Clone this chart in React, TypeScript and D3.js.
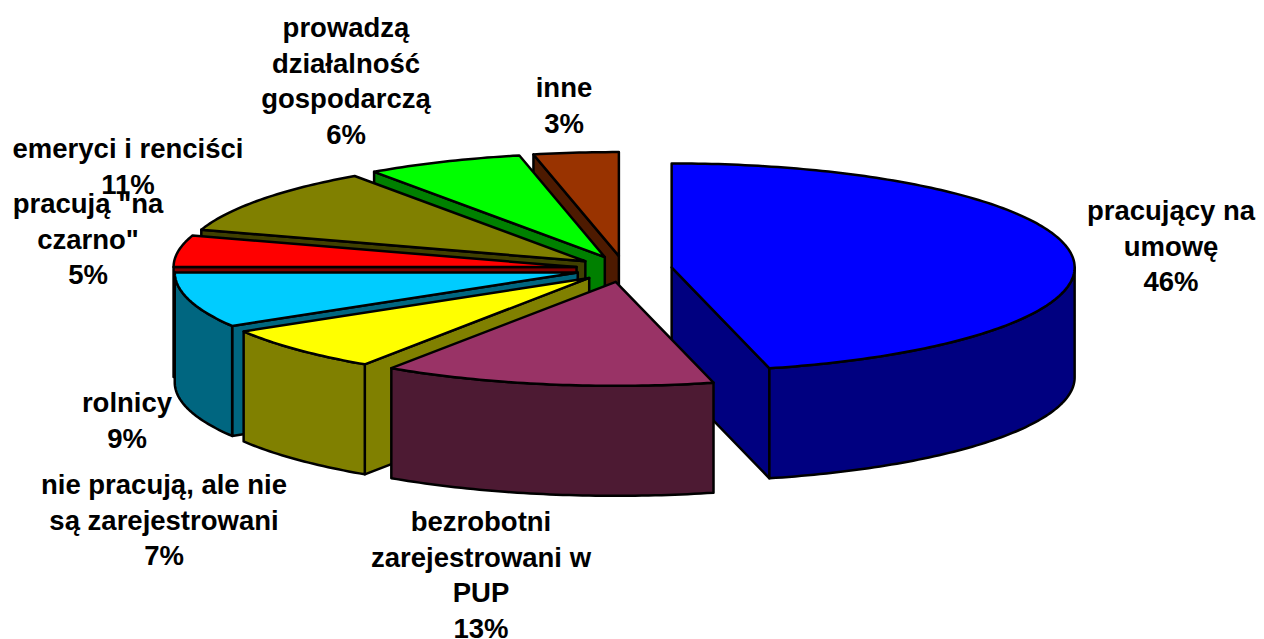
import React from 'react';
import * as d3 from 'd3';

const categories = ['pracujący na umowę', 'bezrobotni zarejestrowani w PUP', 'nie pracują, ale nie są zarejestrowani', 'rolnicy', 'pracują "na czarno"', 'emeryci i renciści', 'prowadzą działalność gospodarczą', 'inne'];
const shares = [46.1, 13.3, 7.0, 8.6, 4.9, 10.4, 6.3, 3.4];
const percentLabels = ['46%', '13%', '7%', '9%', '5%', '11%', '6%', '3%'];
const topColors = ['#0000ff', '#993366', '#ffff00', '#00ccff', '#ff0000', '#808000', '#00ff00', '#993300'];
const sideColors = ['#000080', '#4d1a33', '#808000', '#006680', '#800000', '#404000', '#008000', '#4d1a00'];

// text lines of every label, wrapped like the original
const labelLines = [
  ['pracujący na', 'umowę'],
  ['bezrobotni', 'zarejestrowani w', 'PUP'],
  ['nie pracują, ale nie', 'są zarejestrowani'],
  ['rolnicy'],
  ['pracują "na', 'czarno"'],
  ['emeryci i renciści'],
  ['prowadzą', 'działalność', 'gospodarczą'],
  ['inne'],
];
// label centre x and first baseline
const labelX = [1171, 481, 164, 127, 88, 128, 346, 564];
const labelY = [220, 531, 494, 412, 213, 158, 37, 97];

const width = 1264;
const height = 639;
const cx = 624;
const cy = 269;
const rx = 403;
const ry = 104;
const depth = 110;
const explodeX = 48;
const explodeY = 13;
const lineGap = 35.5;

const pie = d3.pie<number>().sort(null).startAngle(0).endAngle(2 * Math.PI);
const line = d3.line();

const App = () => {
  const slices = pie(shares).map((d, i) => {
    const mid = (d.startAngle + d.endAngle) / 2;
    const ax = cx + explodeX * Math.sin(mid);
    const ay = cy - explodeY * Math.cos(mid);
    const pt = (a: number, dz = 0): [number, number] => [ax + rx * Math.sin(a), ay - ry * Math.cos(a) + dz];
    const arcPts = (a0: number, a1: number, dz = 0) => {
      const n = Math.max(2, Math.ceil((a1 - a0) * 60));
      return d3.range(n + 1).map((k) => pt(a0 + ((a1 - a0) * k) / n, dz));
    };
    const apex: [number, number] = [ax, ay];
    const apexLow: [number, number] = [ax, ay + depth];
    const top = line([apex, ...arcPts(d.startAngle, d.endAngle)]) + 'Z';
    const walls: string[] = [];
    // cut faces: only those turned to the viewer
    if (Math.sin(d.startAngle) < -1e-6) {
      walls.push(line([apex, pt(d.startAngle), pt(d.startAngle, depth), apexLow]) + 'Z');
    }
    if (Math.sin(d.endAngle) > 1e-6) {
      walls.push(line([apex, pt(d.endAngle), pt(d.endAngle, depth), apexLow]) + 'Z');
    }
    // outer wall, front half only
    const w0 = Math.max(d.startAngle, Math.PI / 2);
    const w1 = Math.min(d.endAngle, (3 * Math.PI) / 2);
    if (w1 > w0) {
      walls.push(line([...arcPts(w0, w1), ...arcPts(w0, w1, depth).reverse()]) + 'Z');
    }
    return { i, ay, top, walls };
  });
  const order = d3.sort(slices, (s) => s.ay);

  return (
    <svg width={width} height={height} style={{ position: 'absolute', left: 0, top: 0, background: '#fff' }}>
      {order.map((s) => (
        <g key={categories[s.i]} stroke="#000" strokeWidth={2.5} strokeLinejoin="round">
          {s.walls.map((w, k) => (
            <path key={k} d={w} fill={sideColors[s.i]} />
          ))}
          <path d={s.top} fill={topColors[s.i]} />
        </g>
      ))}
      <g fontFamily="'Liberation Sans', Arial, sans-serif" fontWeight="bold" fontSize={27.5} textAnchor="middle" fill="#000">
        {labelLines.map((lines, i) => (
          <text key={categories[i]} x={labelX[i]} y={labelY[i]}>
            {[...lines, percentLabels[i]].map((t, k) => (
              <tspan key={k} x={labelX[i]} dy={k === 0 ? 0 : lineGap}>
                {t}
              </tspan>
            ))}
          </text>
        ))}
      </g>
    </svg>
  );
};

export default App;
